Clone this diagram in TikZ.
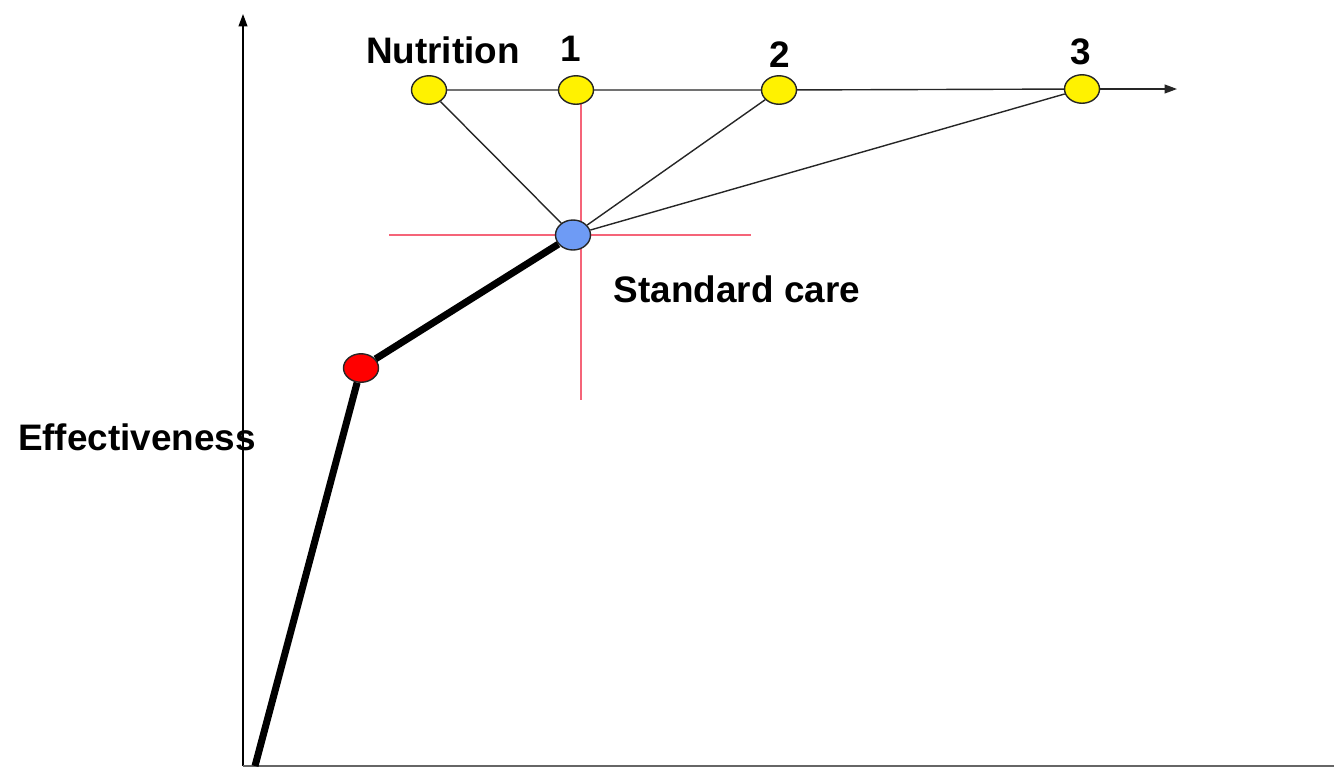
\documentclass[tikz,border=0pt]{standalone}
\usepackage{fontspec}
\setmainfont{Liberation Sans}
\usetikzlibrary{arrows.meta,shapes.geometric}
\begin{document}
\begin{tikzpicture}[x=0.02cm,y=-0.02cm,
  dot/.style={ellipse,draw=black!85,line width=0.8pt,minimum width=0.7cm,minimum height=0.57cm,inner sep=0pt},
  lbl/.style={font=\fontsize{21}{25}\selectfont\bfseries,inner sep=0pt},
  thin/.style={line width=0.8pt,draw=black!85},
  cross/.style={line width=0.8pt,draw={rgb,255:red,245;green,100;blue,120}},
  axis/.style={line width=0.8pt,-{Triangle[length=7pt,width=5pt]}}]
\useasboundingbox (0,0) rectangle (1334,768);
% crosshair
\coordinate (cl) at (389,235);
\coordinate (cr) at (751,235);
\coordinate (ct) at (581,100);
\coordinate (cb) at (581,400);
\draw[cross] (cl) -- (cr);
\draw[cross] (ct) -- (cb);
% axes
\coordinate (o) at (243,766);
\coordinate (ytop) at (243,14);
\coordinate (xend) at (1334,766);
\draw[axis] (o) -- (ytop);
\draw[line width=1.5pt,draw=black!60] (o) -- (xend);
% nodes
\node[dot,fill=yellow] (nut) at (429,90) {};
\node[dot,fill=yellow] (n1) at (576,90) {};
\node[dot,fill=yellow] (n2) at (779,90) {};
\node[dot,fill=yellow] (n3) at (1082,89) {};
\node[dot,fill={rgb,255:red,110;green,155;blue,245},minimum height=0.6cm] (sc) at (573,235) {};
\node[dot,fill=red] (red) at (361,368) {};
\coordinate (hend) at (1177,89);
\coordinate (start) at (255,766);
% labels
\node[lbl] (tnut) at (443,50) {Nutrition};
\node[lbl] (t1) at (571,49) {1};
\node[lbl] (t2) at (780,55) {2};
\node[lbl] (t3) at (1081,52) {3};
\node[lbl] (tsc) at (737,289) {Standard care};
\node[lbl] (teff) at (137,437) {Effectiveness};
% connectors
\draw[thin] (nut) -- (n1) -- (n2) -- (n3);
\draw[thin,-{Triangle[length=7pt,width=5pt]}] (n3) -- (hend);
\draw[thin] (sc) -- (nut);
\draw[thin] (sc) -- (n2);
\draw[thin] (sc) -- (n3);
\draw[line width=4pt] (start) -- (red);
\draw[line width=4pt] (red) -- (sc);
\end{tikzpicture}
\end{document}
